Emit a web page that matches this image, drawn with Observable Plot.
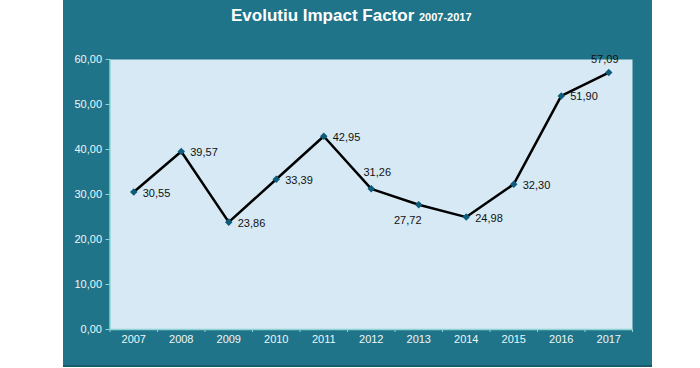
<!DOCTYPE html>
<html><head><meta charset="utf-8">
<script src="https://cdn.jsdelivr.net/npm/d3@7"></script>
<script src="https://cdn.jsdelivr.net/npm/@observablehq/plot@0.6"></script>
<style>
body{margin:0;background:#fff;font-family:"Liberation Sans",Arial,sans-serif}
#wrap{position:relative;width:700px;height:368px;overflow:hidden}
#panel{position:absolute;left:63px;top:0;width:589px;height:365px;background:#20748a;border-bottom:2px solid #175b6c}
#title{position:absolute;left:231px;top:6px;white-space:nowrap;color:#fff;font-weight:bold;font-size:17px}
#title span{font-size:11px}
#chart{position:absolute;left:0;top:0}
</style></head>
<body>
<div id="wrap">
  <div id="panel"></div>
  <div id="title">Evolutiu Impact Factor <span>2007-2017</span></div>
  <div id="chart"></div>
</div>
<script>
const years = [2007, 2008, 2009, 2010, 2011, 2012, 2013, 2014, 2015, 2016, 2017];
const values = [30.55, 39.57, 23.86, 33.39, 42.95, 31.26, 27.72, 24.98, 32.30, 51.90, 57.09];
const placement = ["right","right","right","right","right","above-right","below-left","right","right","right","above-left"];
const yTicks = [0, 10, 20, 30, 40, 50, 60];

const data = years.map((year, i) => ({year, value: values[i], place: placement[i]}));
const fmt = v => v.toFixed(2).replace(".", ",");
const axisCol = "#8fd4d4";
const tickText = "#eef7f8";
const byPlace = p => data.filter(d => d.place === p);
const common = {x: "year", y: "value", text: d => fmt(d.value), fill: "#111", fontSize: 11};

const chart = Plot.plot({
  width: 700, height: 368,
  marginLeft: 109.5, marginRight: 68, marginTop: 59, marginBottom: 39,
  style: {background: "transparent", fontFamily: "Liberation Sans, Arial, sans-serif", fontSize: "11px"},
  x: {type: "linear", domain: [years[0] - 0.5, years[years.length - 1] + 0.5]},
  y: {domain: [0, 60]},
  marks: [
    Plot.frame({fill: "#d6e9f4", stroke: null}),
    Plot.axisX(years, {tickSize: 0, tickPadding: 6, tickFormat: d => String(d), fill: tickText, label: null}),
    Plot.axisX(d3.range(years[0] - 0.5, years[years.length - 1] + 1, 1), {tickSize: 3, tickFormat: () => "", stroke: axisCol, label: null}),
    Plot.axisY(yTicks, {tickSize: 4, tickPadding: 4, tickFormat: fmt, stroke: axisCol, fill: tickText, label: null}),
    Plot.ruleX([years[0] - 0.5], {stroke: axisCol, strokeWidth: 1.5}),
    Plot.ruleY([0], {stroke: axisCol, strokeWidth: 1.5}),
    Plot.line(data, {x: "year", y: "value", stroke: "#000", strokeWidth: 2.5}),
    Plot.dot(data, {x: "year", y: "value", symbol: "square", rotate: 45, r: 3, fill: "#0e5c7b", stroke: null}),
    Plot.text(byPlace("right"), {...common, textAnchor: "start", dx: 9, dy: 1}),
    Plot.text(byPlace("above-right"), {...common, dx: 6, dy: -16}),
    Plot.text(byPlace("above-left"), {...common, dx: -4, dy: -13}),
    Plot.text(byPlace("below-left"), {...common, dx: -11, dy: 16})
  ]
});
document.getElementById("chart").append(chart);
</script>
</body></html>
